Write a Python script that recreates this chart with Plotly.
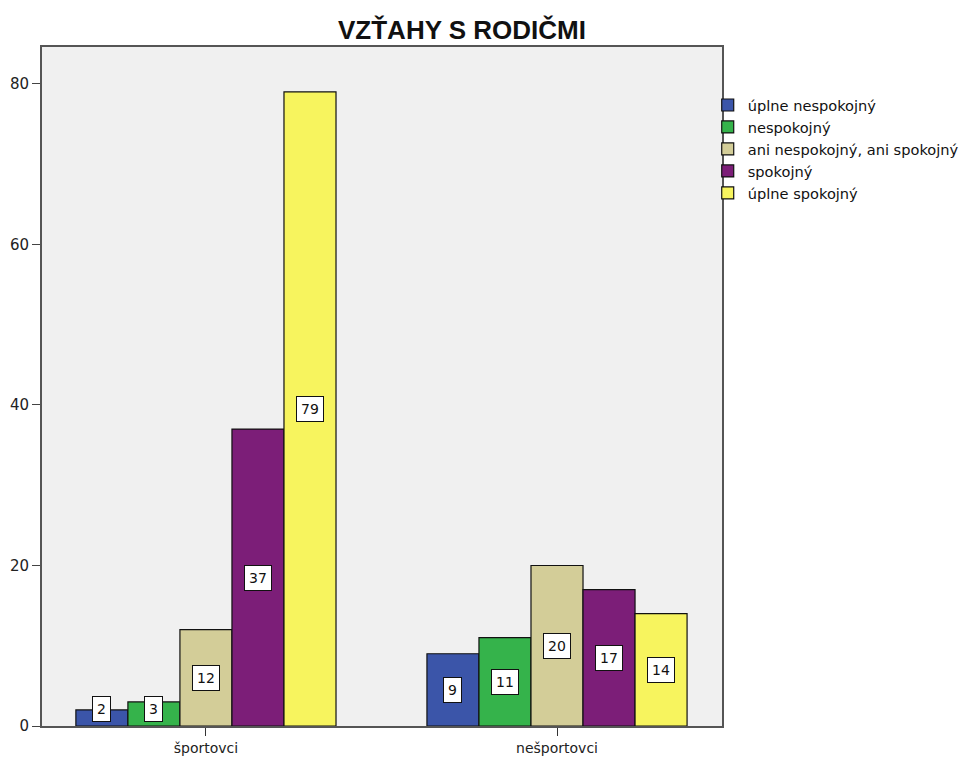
import plotly.graph_objects as go

categories = ["športovci", "nešportovci"]
series_names = ["úplne nespokojný", "nespokojný", "ani nespokojný, ani spokojný", "spokojný", "úplne spokojný"]
values_uplne_nespokojny = [2, 9]
values_nespokojny = [3, 11]
values_ani = [12, 20]
values_spokojny = [37, 17]
values_uplne_spokojny = [79, 14]
y_tick_values = [0, 20, 40, 60, 80]

series_values = [values_uplne_nespokojny, values_nespokojny, values_ani,
                 values_spokojny, values_uplne_spokojny]
colors = ["#3b55a9", "#35b34b", "#d3cd98", "#7c1e78", "#f7f45e"]

BARGAP = 0.259
n = len(series_names)
bar_w = (1 - BARGAP) / n

# page body has an 8px margin; layout numbers compensate for it
fig = go.Figure()
for i, (name, vals) in enumerate(zip(series_names, series_values)):
    fig.add_trace(go.Bar(
        x=categories, y=vals, name=name, legendgroup=name,
        marker=dict(color=colors[i], line=dict(color="#111111", width=1.2)),
        hoverinfo="skip",
    ))
    for ci, v in enumerate(vals):
        fig.add_annotation(
            x=ci + (i - (n - 1) / 2) * bar_w, y=max(v / 2, 2.1),
            xref="x", yref="y", text=str(v), showarrow=False,
            font=dict(family="DejaVu Sans, Arial", size=14, color="#111111"),
            bgcolor="white", bordercolor="#111111", borderwidth=1, borderpad=4,
        )

fig.update_layout(
    width=970, height=758,
    barmode="group", bargap=BARGAP, bargroupgap=0,
    paper_bgcolor="white", plot_bgcolor="#f0f0f0",
    margin=dict(l=34, r=256, t=39, b=40, autoexpand=False),
    title=dict(text="<b>VZŤAHY S RODIČMI</b>", x=454 / 970, xanchor="center",
               y=1 - 22 / 758, yanchor="middle",
               font=dict(family="Liberation Sans, Arial", size=26, color="#111111")),
    legend=dict(x=0.979, xanchor="left", y=1 - 42 / 679, yanchor="top",
                font=dict(family="DejaVu Sans, Arial", size=14.6, color="#111111"),
                bgcolor="rgba(0,0,0,0)", itemwidth=30, tracegroupgap=0.5,
                traceorder="normal"),
    showlegend=True,
)
fig.update_xaxes(
    type="category", range=[-0.467, 1.470], automargin=False,
    showline=True, linecolor="#555555", linewidth=2, mirror=True,
    ticks="outside", ticklen=8, tickcolor="#333333", ticklabelstandoff=0,
    showgrid=False, zeroline=False,
    tickfont=dict(family="DejaVu Sans, Arial", size=14, color="#222222"),
)
fig.update_yaxes(
    range=[0, 84.6], tickvals=y_tick_values, automargin=False,
    showline=True, linecolor="#555555", linewidth=2, mirror=True,
    ticks="outside", ticklen=8, tickcolor="#444444",
    showgrid=False, zeroline=False,
    tickfont=dict(family="DejaVu Sans, Arial", size=15, color="#222222"),
)

fig.write_html("out.html")
